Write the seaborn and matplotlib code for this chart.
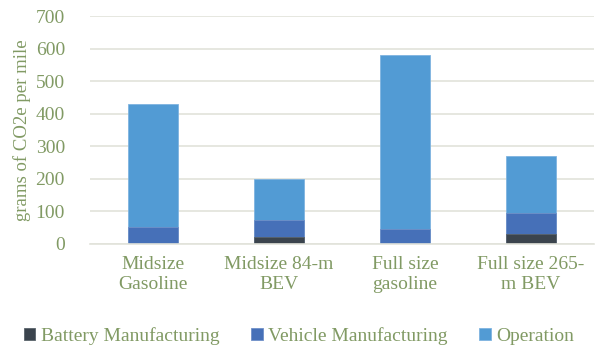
import matplotlib
matplotlib.use("Agg")
import matplotlib.pyplot as plt
import seaborn as sns
import pandas as pd
import numpy as np

categories = ["Midsize\nGasoline", "Midsize 84-m\nBEV", "Full size\ngasoline", "Full size 265-\nm BEV"]
battery = [0, 22, 0, 30]
vehicle = [53, 51, 47, 64]
operation = [377, 127, 533, 176]
series_names = ["Battery Manufacturing", "Vehicle Manufacturing", "Operation"]
colors = ["#3b444d", "#4670b8", "#529bd4"]

sns.set_theme(style="white")
plt.rcParams['font.family'] = ['Liberation Serif', 'DejaVu Serif']
txt = "#819a64"

fig = plt.figure(figsize=(5.98, 3.5), dpi=100)
ax = fig.add_axes([0.1505, 0.303, 0.8425, 0.651])

df = pd.DataFrame({"cat": categories, "b": battery, "v": vehicle, "o": operation})
cum1 = df["b"]
cum2 = df["b"] + df["v"]
cum3 = cum2 + df["o"]

sns.barplot(x="cat", y=cum3.values, data=df, color=colors[2], width=0.4, ax=ax, label=series_names[2], saturation=1, edgecolor="#7fb4e0", linewidth=0.6)
sns.barplot(x="cat", y=cum2.values, data=df, color=colors[1], width=0.4, ax=ax, label=series_names[1], saturation=1, edgecolor="#6f90c8", linewidth=0.6)
sns.barplot(x="cat", y=cum1.values, data=df, color=colors[0], width=0.4, ax=ax, label=series_names[0], saturation=1, edgecolor="#5a636b", linewidth=0.6)

ax.set_ylim(0, 700)
ax.set_xlim(-0.5, 3.5)
ax.set_yticks(range(0, 701, 100))
ax.yaxis.grid(True, color="#e2e3da", linewidth=1.2)
ax.set_axisbelow(True)
for s in ["top", "right", "left"]:
    ax.spines[s].set_visible(False)
ax.spines["bottom"].set_color("#e2e3da")
ax.spines["bottom"].set_linewidth(1.2)
ax.tick_params(axis="y", colors=txt, labelsize=14, length=0, pad=18)
ax.tick_params(axis="x", colors=txt, labelsize=14, length=0, pad=9)
ax.set_xlabel("")
ax.set_ylabel("grams of CO2e per mile", color=txt, fontsize=13.5, labelpad=3)

handles, labels = ax.get_legend_handles_labels()
order = [labels.index(n) for n in series_names]
leg = fig.legend([handles[i] for i in order], [labels[i] for i in order], loc="lower center",
                 bbox_to_anchor=(0.5, -0.035), ncol=3, frameon=False, fontsize=14,
                 handlelength=0.6, handleheight=0.6, handletextpad=0.3, columnspacing=1.6)
for t in leg.get_texts():
    t.set_color(txt)
if ax.get_legend():
    ax.get_legend().remove()

fig.savefig("out.png", dpi=100)
